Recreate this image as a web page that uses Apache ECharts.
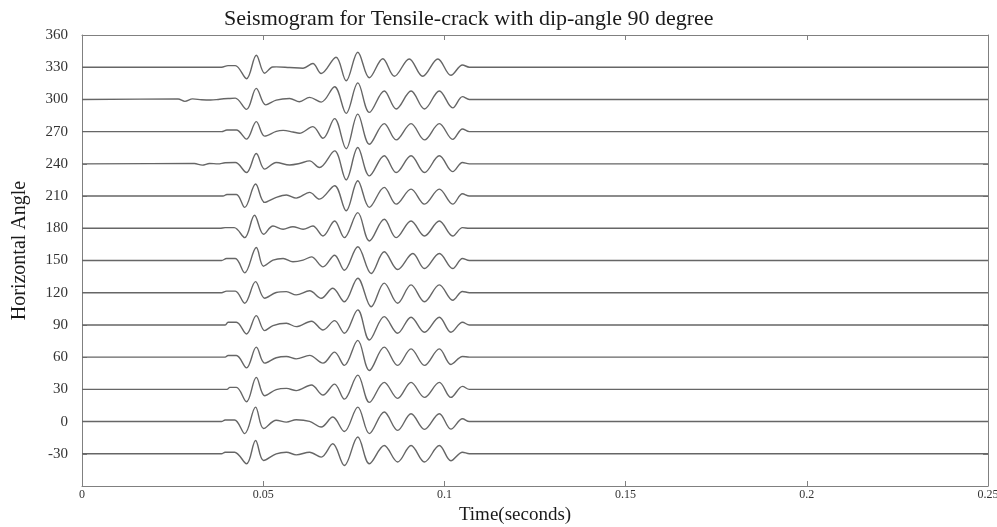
<!DOCTYPE html>
<html>
<head>
<meta charset="utf-8">
<script src="https://cdn.jsdelivr.net/npm/echarts@6/dist/echarts.min.js"></script>
<style>
html,body{margin:0;padding:0;background:#fff;}
#chart{width:997px;height:527px;}
</style>
</head>
<body>
<div id="chart"></div>
<script>
// Horizontal angle offsets of each trace (y-axis units, degrees)
const offsets = [330, 300, 270, 240, 210, 180, 150, 120, 90, 60, 30, 0, -30];
// Key points of each trace: [time in ms, deflection in axis units]
const trace330 = [[38.5,0],[40.3,1.5],[42.3,1.5],[45.4,-10.7],[48.1,11.2],[50.4,-5.6],[52.6,0.2],[53.6,0.3],[57.3,-0.3],[61.0,-0.9],[63.7,3.4],[66.0,-5.9],[70.1,9.3],[72.9,-12.6],[76.1,14.0],[79.3,-9.8],[83.0,7.9],[86.2,-8.4],[90.3,7.7],[94.0,-8.4],[98.2,7.7],[101.8,-7.5],[105.0,2.1],[106.9,0]];
const trace300 = [[26.5,0.4],[28.4,-1.8],[30.5,0.5],[33.0,-0.3],[35.5,-0.6],[38.0,0.2],[40.3,0.8],[42.3,1.2],[45.4,-9.3],[48.1,10.3],[50.7,-5.1],[53.6,-0.6],[57.3,0.9],[60.0,-2.1],[62.8,1.9],[66.0,-2.5],[69.7,11.8],[72.9,-13.0],[76.1,15.4],[79.3,-12.1],[83.4,7.9],[86.7,-8.9],[90.8,7.9],[94.5,-8.9],[98.6,7.9],[102.3,-7.9],[105.0,2.6],[106.9,0]];
const trace270 = [[38.5,0],[40.0,1.5],[42.6,1.5],[45.4,-7.0],[48.1,9.3],[50.4,-4.2],[53.6,0.2],[55.5,1.2],[58.2,-0.3],[60.0,-1.5],[63.7,4.7],[66.5,-6.2],[69.7,12.1],[72.9,-15.9],[76.1,16.3],[79.3,-11.7],[83.4,7.5],[86.7,-7.7],[90.8,7.5],[94.5,-7.7],[98.6,7.5],[102.3,-7.2],[105.0,2.5],[106.9,0]];
const trace240 = [[31.0,0.3],[33.2,-1.2],[35.2,0.4],[37.5,0],[39.5,1.0],[42.3,1.2],[45.4,-8.1],[48.1,9.6],[50.4,-4.9],[53.6,1.2],[57.3,-1.0],[60.0,0.3],[62.8,2.8],[65.5,-3.4],[69.7,12.1],[72.9,-14.9],[76.1,15.2],[79.3,-11.2],[83.4,7.5],[86.7,-8.1],[90.8,7.5],[94.5,-8.1],[98.6,7.5],[102.3,-7.2],[105.0,1.2],[106.9,0]];
const trace210 = [[38.9,0],[40.0,1.5],[42.6,1.5],[44.9,-10.5],[47.9,11.2],[50.4,-5.9],[53.6,-1.2],[56.4,1.0],[59.1,-1.9],[62.8,3.4],[65.5,-2.8],[69.7,9.6],[72.9,-13.7],[76.1,14.3],[79.3,-10.5],[83.4,8.1],[86.7,-7.5],[90.8,6.5],[94.5,-7.5],[98.6,6.5],[102.3,-7.5],[105.0,2.1],[106.9,0]];
const trace180 = [[38.0,0],[39.5,0.6],[42.0,0.6],[44.9,-8.7],[47.6,12.1],[50.1,-5.6],[52.7,2.1],[55.5,-0.9],[58.2,1.5],[61.0,-0.9],[63.7,2.1],[66.5,-7.2],[69.7,6.8],[72.4,-8.7],[76.1,14.6],[79.3,-11.8],[83.4,8.4],[86.7,-8.7],[90.8,6.8],[94.5,-7.2],[98.6,6.8],[102.3,-7.2],[105.0,0.6],[106.9,0]];
const trace150 = [[38.5,0],[39.9,1.8],[42.3,1.8],[44.9,-11.5],[48.1,12.1],[50.1,-5.3],[52.7,0.3],[55.5,1.9],[58.2,-1.2],[61.0,0.3],[63.3,3.4],[66.5,-5.9],[69.7,4.9],[72.4,-9.1],[76.1,12.8],[79.8,-12.1],[83.4,8.1],[87.1,-8.4],[91.3,6.5],[94.5,-7.5],[98.6,6.5],[102.3,-7.5],[105.0,1.9],[106.9,0]];
const trace120 = [[38.5,0],[39.9,1.5],[42.3,1.5],[44.9,-9.8],[47.9,10.3],[50.4,-5.1],[53.6,0.2],[56.4,1.0],[59.1,-2.0],[62.8,1.8],[66.0,-5.1],[69.2,4.2],[72.4,-8.4],[76.1,13.5],[79.8,-13.1],[83.4,8.9],[87.1,-9.8],[90.8,7.3],[94.5,-8.4],[98.6,7.3],[102.3,-7.0],[105.0,1.2],[106.9,0]];
const trace90 = [[39.5,0],[40.3,2.5],[42.6,2.5],[45.4,-8.4],[48.1,8.7],[50.4,-5.3],[52.7,-0.6],[56.4,1.5],[59.1,-1.6],[63.3,3.4],[66.5,-4.7],[69.7,4.0],[72.4,-7.7],[76.1,14.0],[79.3,-14.0],[83.4,7.7],[87.1,-7.7],[90.8,7.2],[94.5,-6.8],[98.6,7.2],[101.8,-6.8],[105.0,2.5],[106.9,0]];
const trace60 = [[39.5,0],[40.3,1.5],[42.6,1.5],[45.4,-10.0],[48.1,9.3],[50.4,-5.6],[53.6,-0.6],[56.4,0.6],[59.1,-1.6],[62.8,1.6],[66.5,-5.6],[69.7,4.7],[72.4,-7.7],[76.1,15.6],[79.3,-12.4],[83.4,9.3],[87.1,-7.7],[90.8,7.7],[94.5,-7.7],[98.6,7.7],[101.8,-6.8],[105.0,0.6],[106.9,0]];
const trace30 = [[40.0,0],[40.8,1.8],[42.6,1.8],[45.4,-11.5],[48.1,11.2],[50.4,-5.9],[53.6,-0.3],[56.4,0.9],[59.1,-1.2],[63.3,4.0],[66.5,-5.3],[69.7,4.9],[72.4,-9.1],[76.1,13.3],[79.3,-12.1],[83.4,6.5],[87.1,-8.4],[90.8,6.5],[94.5,-7.5],[98.6,6.5],[101.8,-7.5],[105.0,2.8],[106.9,0]];
const trace0 = [[38.5,0],[39.5,1.5],[42.1,1.5],[44.9,-11.2],[47.9,13.5],[50.1,-6.5],[53.6,1.2],[56.4,-0.5],[59.1,1.7],[62.8,0.2],[66.0,-5.1],[69.2,4.2],[72.4,-9.3],[76.1,13.5],[79.3,-11.2],[83.4,8.9],[87.1,-8.2],[90.8,7.3],[94.5,-7.3],[98.6,7.3],[101.8,-7.0],[105.0,2.6],[106.9,0]];
const traceM30 = [[38.5,0],[39.5,1.5],[42.1,1.5],[45.4,-9.3],[47.9,12.4],[50.1,-6.2],[53.6,0],[56.4,1.5],[59.1,-1.0],[62.8,1.5],[66.0,-3.1],[69.2,9.3],[72.4,-10.9],[76.1,15.6],[79.3,-9.3],[83.4,7.7],[87.1,-7.7],[90.8,7.7],[94.5,-7.7],[98.6,7.7],[101.8,-6.5],[105.0,1.5],[106.9,0]];
const traces = [trace330, trace300, trace270, trace240, trace210, trace180, trace150, trace120, trace90, trace60, trace30, trace0, traceM30];
const timeMin = 0, timeMax = 0.25;

const serif = '"Liberation Serif","DejaVu Serif",serif';
const series = traces.map((pts, i) => {
  const off = offsets[i];
  const data = [[timeMin, off]].concat(pts.map(p => [p[0] / 1000, off + p[1]]), [[timeMax, off]]);
  return {
    type: 'line', data, smooth: 0.35, showSymbol: false, silent: true,
    lineStyle: {color: '#666666', width: 1.4}
  };
});

const chart = echarts.init(document.getElementById('chart'), null, {renderer: 'canvas'});
const axisLineStyle = {onZero: false, lineStyle: {color: '#808080', width: 1}};
const tickStyle = {show: true, inside: true, length: 5, lineStyle: {color: '#808080'}};
chart.setOption({
  animation: false,
  backgroundColor: '#fff',
  title: {
    text: 'Seismogram for Tensile-crack with dip-angle 90 degree',
    left: 219, top: 3,
    textStyle: {fontFamily: serif, fontSize: 22, fontWeight: 'normal', color: '#1a1a1a'}
  },
  grid: {left: 82, right: 9, top: 35, bottom: 41, outerBoundsMode: 'none', containLabel: false},
  xAxis: [{
    type: 'value', min: 0, max: 0.25, interval: 0.05,
    name: 'Time(seconds)', nameLocation: 'middle', nameGap: 17,
    nameTextStyle: {fontFamily: serif, fontSize: 19, color: '#1a1a1a', padding: [0, 40, 0, 0]},
    axisLine: axisLineStyle,
    axisTick: tickStyle,
    axisLabel: {fontFamily: serif, fontSize: 12, color: '#333', margin: 3},
    splitLine: {show: false}
  }, {
    type: 'value', position: 'top', min: 0, max: 0.25, interval: 0.05,
    axisLine: axisLineStyle,
    axisTick: tickStyle,
    axisLabel: {show: false}, splitLine: {show: false}
  }],
  yAxis: [{
    type: 'value', min: -60, max: 360, interval: 30,
    name: 'Horizontal Angle', nameLocation: 'middle', nameGap: 52, nameRotate: 90,
    nameTextStyle: {fontFamily: serif, fontSize: 20, color: '#1a1a1a', padding: [0, 0, 0, 20]},
    axisLine: {show: true, onZero: false, lineStyle: {color: '#808080', width: 1}},
    axisTick: tickStyle,
    axisLabel: {fontFamily: serif, fontSize: 15, color: '#333', margin: 14,
      formatter: v => (v === -60 ? '' : String(v))},
    splitLine: {show: false}
  }, {
    type: 'value', position: 'right', min: -60, max: 360, interval: 30,
    axisLine: {show: true, onZero: false, lineStyle: {color: '#808080', width: 1}},
    axisTick: tickStyle,
    axisLabel: {show: false}, splitLine: {show: false}
  }],
  series
});
</script>
</body>
</html>
